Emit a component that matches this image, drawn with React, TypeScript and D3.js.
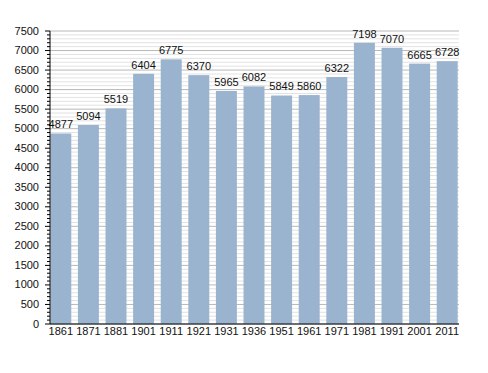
import React from "react";
import * as d3 from "d3";

const YEARS = ["1861", "1871", "1881", "1901", "1911", "1921", "1931", "1936", "1951", "1961", "1971", "1981", "1991", "2001", "2011"];
const POPULATION = [4877, 5094, 5519, 6404, 6775, 6370, 5965, 6082, 5849, 5860, 6322, 7198, 7070, 6665, 6728];
const MAJOR_TICKS = d3.range(0, 7501, 500);
const MINOR_TICKS = d3.range(0, 7501, 100);

const App = () => {
  const width = 488;
  const height = 373;
  const left = 50;
  const right = 459;
  const top = 31;
  const bottom = 324;

  const x = d3.scaleBand().domain(YEARS).range([47, 461]).paddingInner(0.24).paddingOuter(0.12);
  const y = d3.scaleLinear().domain([0, 7500]).range([bottom, top]);
  const font = "'Liberation Sans', Arial, sans-serif";

  return (
    <svg width={width} height={height} style={{ position: "absolute", left: 0, top: 0 }}>
      <rect width={width} height={height} fill="#fff" />
      {MINOR_TICKS.map((t) => (
        <line key={"g" + t} x1={left} x2={right} y1={y(t)} y2={y(t)}
          stroke={t % 500 === 0 ? "#b8b8b8" : "#e2e2e2"} strokeWidth={1} />
      ))}
      {YEARS.map((yr, i) => (
        <g key={yr}>
          <rect x={x(yr)} y={y(POPULATION[i])} width={x.bandwidth()} height={bottom - y(POPULATION[i])} fill="#9ab3cf" />
          <text x={x(yr)! + x.bandwidth() / 2} y={y(POPULATION[i]) - 5} textAnchor="middle"
            fontFamily={font} fontSize={11} fill="#111">{POPULATION[i]}</text>
          <text x={x(yr)! + x.bandwidth() / 2} y={bottom + 10.5} textAnchor="middle"
            fontFamily={font} fontSize={11} fill="#111">{yr}</text>
        </g>
      ))}
      <line x1={left} x2={left} y1={top} y2={bottom} stroke="#000" />
      <line x1={left} x2={right} y1={bottom} y2={bottom} stroke="#000" />
      {MINOR_TICKS.map((t) => (
        <line key={"t" + t} x1={t % 500 === 0 ? left - 5 : left - 3} x2={left} y1={y(t)} y2={y(t)} stroke="#000" />
      ))}
      {MAJOR_TICKS.map((t) => (
        <text key={"l" + t} x={39} y={y(t) + 3.5} textAnchor="end" fontFamily={font} fontSize={11} fill="#111">{t}</text>
      ))}
    </svg>
  );
};

export default App;
